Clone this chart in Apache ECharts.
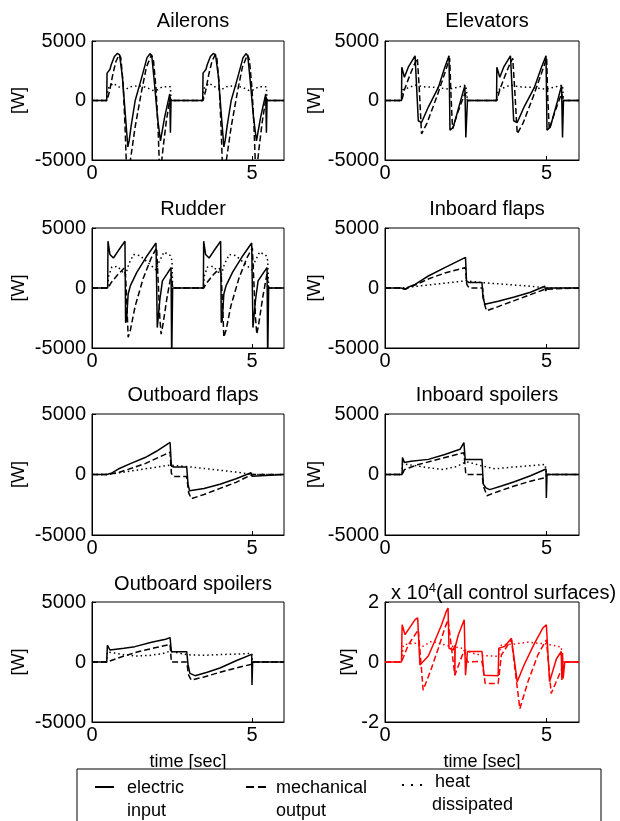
<!DOCTYPE html>
<html>
<head>
<meta charset="utf-8">
<script src="https://cdn.jsdelivr.net/npm/echarts@6/dist/echarts.min.js"></script>
<style>
html, body { margin: 0; padding: 0; background: #fff; }
#powerChart { width: 620px; height: 821px; }
</style>
</head>
<body>
<div id="powerChart"></div>
<script>
// time [sec], power [W]  (last panel in units of 1e4 W)
var aileronsElec = [[0,0],[0.46,0],[0.47,2300],[0.56,2600],[0.6,3000],[0.7,3700],[0.79,3950],[0.86,3850],[0.95,2000],[1.05,-1500],[1.12,-3900],[1.16,-3400],[1.22,-2200],[1.35,0],[1.55,1900],[1.72,3600],[1.82,3950],[1.87,3700],[1.95,1500],[2.05,-1500],[2.14,-3400],[2.27,-1400],[2.43,550],[2.45,-2700],[2.47,0],
    [3.46,0],[3.47,2300],[3.56,2600],[3.6,3000],[3.7,3700],[3.79,3950],[3.86,3850],[3.95,2000],[4.05,-1500],[4.12,-3900],[4.16,-3400],[4.22,-2200],[4.35,0],[4.55,1900],[4.72,3600],[4.82,3950],[4.87,3700],[4.95,1500],[5.05,-1500],[5.14,-3400],[5.27,-1400],[5.43,550],[5.45,-2700],[5.47,0],[6,0]];
var aileronsMech = [[0,0],[0.47,0],[0.55,800],[0.65,2200],[0.75,3300],[0.85,3850],[0.9,3600],[0.97,1500],[1.03,-2000],[1.07,-5000],[1.13,-6000],[1.2,-5000],[1.35,-2200],[1.55,800],[1.7,2800],[1.86,3850],[1.92,3400],[2.0,1000],[2.06,-2000],[2.1,-5000],[2.15,-5800],[2.22,-4000],[2.32,-1800],[2.44,300],[2.47,0],
    [3.47,0],[3.55,800],[3.65,2200],[3.75,3300],[3.85,3850],[3.9,3600],[3.97,1500],[4.03,-2000],[4.07,-5000],[4.13,-6000],[4.2,-5000],[4.35,-2200],[4.55,800],[4.7,2800],[4.86,3850],[4.92,3400],[5.0,1000],[5.06,-2000],[5.1,-5000],[5.15,-5800],[5.22,-4000],[5.32,-1800],[5.44,300],[5.47,0],[6,0]];
var aileronsHeat = [[0,0],[0.46,0],[0.5,1000],[0.66,1450],[0.8,1200],[1.03,900],[1.2,1150],[1.45,1250],[1.7,1100],[1.9,850],[2.05,900],[2.2,1150],[2.45,1150],[2.47,0],
    [3.46,0],[3.5,1000],[3.66,1450],[3.8,1200],[4.03,900],[4.2,1150],[4.45,1250],[4.7,1100],[4.9,850],[5.05,900],[5.2,1150],[5.45,1150],[5.47,0],[6,0]];

var elevatorsElec = [[0,0],[0.51,0],[0.52,2800],[0.6,1950],[0.72,2800],[0.93,3750],[0.99,3850],[1.03,-1700],[1.13,-1850],[1.34,-550],[1.65,1100],[1.85,2800],[1.98,3750],[2.01,-2500],[2.11,-2250],[2.31,-300],[2.47,1250],[2.5,-3100],[2.55,0],
    [3.45,0],[3.46,2800],[3.55,1950],[3.67,2800],[3.88,3750],[3.94,3850],[3.98,-1700],[4.09,-1850],[4.3,-550],[4.62,1100],[4.84,2800],[4.98,3750],[5.01,-2500],[5.11,-2250],[5.31,-300],[5.46,1250],[5.49,-3100],[5.52,0],[6,0]];
var elevatorsMech = [[0,0],[0.52,0],[0.6,900],[0.75,2000],[0.9,3000],[1.0,3550],[1.06,1000],[1.13,-2800],[1.3,-1900],[1.6,300],[1.85,2300],[2.0,3550],[2.04,500],[2.09,-2400],[2.25,-1000],[2.47,600],[2.55,0],
    [3.46,0],[3.55,900],[3.7,2000],[3.85,3000],[3.95,3550],[4.01,1000],[4.09,-2800],[4.27,-1900],[4.58,300],[4.84,2300],[5.0,3550],[5.03,500],[5.08,-2400],[5.25,-1000],[5.46,600],[5.52,0],[6,0]];
var elevatorsHeat = [[0,0],[0.51,0],[0.55,900],[0.7,1050],[0.93,1300],[1.2,1150],[1.6,1100],[1.98,950],[2.3,1150],[2.5,1300],[2.55,0],
    [3.45,0],[3.49,900],[3.65,1050],[3.88,1300],[4.15,1150],[4.55,1100],[4.98,950],[5.28,1150],[5.49,1300],[5.52,0],[6,0]];

var rudderElec = [[0,0],[0.49,0],[0.5,3900],[0.56,2800],[0.67,2500],[0.82,3100],[1.03,3900],[1.05,-2900],[1.08,-2700],[1.13,-500],[1.2,200],[1.4,1300],[1.7,2600],[2.0,3750],[2.02,3900],[2.04,-3300],[2.12,-1000],[2.2,600],[2.35,1200],[2.47,1700],[2.49,-6000],[2.52,0],
    [3.48,0],[3.49,3900],[3.55,2800],[3.66,2500],[3.81,3100],[4.02,3900],[4.04,-2900],[4.07,-2700],[4.12,-500],[4.19,200],[4.39,1300],[4.69,2600],[4.99,3750],[5.01,3900],[5.03,-3300],[5.11,-1000],[5.19,600],[5.34,1200],[5.47,1700],[5.49,-6000],[5.52,0],[6,0]];
var rudderMech = [[0,0],[0.5,0],[0.6,450],[0.8,1100],[1.0,1650],[1.05,1000],[1.1,-2000],[1.13,-4100],[1.2,-3500],[1.35,-1500],[1.6,800],[1.85,2500],[2.02,3350],[2.06,1000],[2.12,-2500],[2.16,-3850],[2.22,-3000],[2.35,-700],[2.48,1200],[2.52,0],
    [3.49,0],[3.59,450],[3.79,1100],[3.99,1650],[4.04,1000],[4.09,-2000],[4.12,-4100],[4.19,-3500],[4.34,-1500],[4.59,800],[4.84,2500],[5.01,3350],[5.05,1000],[5.11,-2500],[5.15,-3850],[5.21,-3000],[5.34,-700],[5.47,1200],[5.51,0],[6,0]];
var rudderHeat = [[0,0],[0.49,0],[0.52,1000],[0.62,1750],[0.8,1800],[0.98,1250],[1.05,1100],[1.15,2000],[1.3,2800],[1.5,2700],[1.8,2000],[2.0,1500],[2.1,2200],[2.25,3000],[2.45,2700],[2.5,2300],[2.52,0],
    [3.48,0],[3.51,1000],[3.61,1750],[3.79,1800],[3.97,1250],[4.04,1100],[4.14,2000],[4.29,2800],[4.49,2700],[4.79,2000],[4.99,1500],[5.09,2200],[5.24,3000],[5.44,2700],[5.49,2300],[5.52,0],[6,0]];

var inFlapsElec = [[0,0],[0.5,0],[0.62,-100],[0.75,100],[0.93,300],[1.1,600],[1.34,1000],[1.85,1700],[2.49,2550],[2.52,600],[2.6,450],[3.0,450],[3.03,-800],[3.09,-1350],[3.5,-1100],[4.0,-750],[4.5,-350],[4.94,150],[4.97,-250],[5.0,0],[6,0]];
var inFlapsMech = [[0,0],[0.5,0],[0.62,-100],[0.93,250],[1.34,750],[1.85,1250],[2.49,1700],[2.53,300],[2.6,0],[3.02,0],[3.06,-1200],[3.14,-1900],[3.5,-1550],[4.0,-1050],[4.5,-550],[4.95,-100],[5.0,0],[6,0]];
var inFlapsHeat = [[0,0],[0.5,0],[1.0,150],[1.5,300],[2.0,450],[2.5,600],[3.0,450],[3.5,350],[4.0,250],[4.5,150],[5.0,0],[6,0]];

var outFlapsElec = [[0,0],[0.46,0],[0.6,100],[0.82,450],[1.2,900],[1.66,1400],[2.0,1900],[2.44,2650],[2.48,700],[2.55,620],[2.96,620],[3.0,-800],[3.05,-1350],[3.5,-1150],[4.0,-800],[4.5,-350],[4.97,150],[5.0,-150],[5.02,0],[6,0]];
var outFlapsMech = [[0,0],[0.46,0],[0.82,150],[1.66,900],[2.44,1850],[2.48,100],[2.55,-170],[2.96,-170],[3.02,-1500],[3.1,-2000],[3.5,-1650],[4.0,-1150],[4.5,-650],[5.0,0],[6,0]];
var outFlapsHeat = [[0,0],[0.46,0],[1.0,200],[1.5,400],[2.0,600],[2.44,780],[3.0,650],[3.5,500],[4.0,350],[4.5,200],[5.0,0],[6,0]];

var inSpoilElec = [[0,0],[0.53,0],[0.54,1400],[0.6,1000],[0.8,1100],[1.34,1250],[1.85,1650],[2.32,2080],[2.44,2640],[2.48,1250],[3.0,1250],[3.04,-800],[3.12,-1100],[3.24,-1250],[3.6,-950],[4.0,-600],[4.5,-100],[4.98,450],[4.99,-1950],[5.01,0],[6,0]];
var inSpoilMech = [[0,0],[0.53,0],[0.6,400],[1.0,800],[1.5,1150],[2.0,1500],[2.44,1800],[2.5,0],[3.0,0],[3.05,-1000],[3.15,-1750],[3.5,-1400],[4.0,-950],[4.5,-550],[4.97,-250],[5.0,0],[6,0]];
var inSpoilHeat = [[0,0],[0.53,0],[0.54,900],[0.7,830],[1.0,700],[1.34,560],[1.8,420],[2.2,650],[2.52,1050],[2.75,900],[3.0,700],[3.4,470],[3.9,600],[4.4,700],[4.95,830],[5.0,0],[6,0]];

var outSpoilElec = [[0,0],[0.46,0],[0.48,1400],[0.56,1000],[1.0,1150],[1.34,1280],[1.86,1640],[2.3,1900],[2.44,2030],[2.48,860],[2.96,860],[3.0,-200],[3.06,-950],[3.22,-1140],[3.6,-850],[4.0,-500],[4.5,100],[4.99,640],[5.0,-1920],[5.02,0],[6,0]];
var outSpoilMech = [[0,0],[0.46,0],[0.48,100],[1.0,500],[1.5,900],[2.0,1200],[2.44,1470],[2.48,0],[2.96,0],[3.02,-1100],[3.1,-1500],[3.5,-1250],[4.0,-850],[4.5,-500],[4.99,-190],[5.02,0],[6,0]];
var outSpoilHeat = [[0,0],[0.46,0],[0.48,850],[0.7,750],[1.0,600],[1.4,500],[1.8,550],[2.2,700],[2.44,900],[2.7,750],[3.0,600],[3.5,560],[4.0,620],[4.5,660],[4.99,720],[5.02,0],[6,0]];

var totalElec = [[0,0],[0.51,0],[0.53,1.24],[0.62,0.91],[0.93,1.41],[1.01,1.47],[1.08,-0.1],[1.13,-0.13],[1.34,0.2],[1.54,0.7],[1.75,1.24],[1.9,1.7],[1.95,1.8],[1.98,0.46],[2.11,0.4],[2.16,0.55],[2.16,-0.44],[2.17,0.5],[2.27,0.91],[2.45,1.41],[2.49,-0.44],[2.55,0.35],[3.0,0.35],[3.06,-0.44],[3.5,-0.46],[3.52,0.46],[3.7,0.52],[3.91,0.79],[4.09,-0.66],[4.3,-0.1],[4.6,0.57],[4.88,1.13],[4.99,1.24],[5.09,-0.66],[5.3,0.1],[5.45,0.35],[5.47,-0.6],[5.49,0.3],[5.51,-0.55],[5.56,0],[6,0]];
var totalMech = [[0,0],[0.51,0],[0.72,0.57],[0.93,0.91],[1.03,1.07],[1.18,-0.94],[1.44,-0.2],[1.65,0.46],[1.85,1.13],[1.95,1.41],[2.16,-0.44],[2.45,0.4],[2.55,0],[3.0,0.02],[3.1,-0.72],[3.5,-0.72],[3.6,0.24],[3.91,0.74],[4.17,-1.56],[4.42,-0.66],[4.73,0.24],[4.99,0.74],[5.14,-1.05],[5.5,-0.15],[5.56,0],[6,0]];
var totalHeat = [[0,0],[0.51,0],[0.57,0.57],[0.93,0.63],[1.13,0.5],[1.44,0.69],[1.85,0.57],[2.37,0.46],[2.68,0.3],[3.0,0.22],[3.5,0.19],[3.6,0.57],[4.0,0.6],[4.42,0.66],[4.99,0.6],[5.45,0.5],[5.5,0],[6,0]];

var panelTitles = ['Ailerons', 'Elevators', 'Rudder', 'Inboard flaps', 'Outboard flaps', 'Inboard spoilers', 'Outboard spoilers', ''];
var seriesNames = ['electric input', 'mechanical output', 'heat dissipated'];
var panelData = [
    [aileronsElec, aileronsMech, aileronsHeat],
    [elevatorsElec, elevatorsMech, elevatorsHeat],
    [rudderElec, rudderMech, rudderHeat],
    [inFlapsElec, inFlapsMech, inFlapsHeat],
    [outFlapsElec, outFlapsMech, outFlapsHeat],
    [inSpoilElec, inSpoilMech, inSpoilHeat],
    [outSpoilElec, outSpoilMech, outSpoilHeat],
    [totalElec, totalMech, totalHeat]
];
var xTicks = [0, 5];
var yTicksW = [-5000, 0, 5000];
var yTicksTotal = [-2, 0, 2];

var font = 'Liberation Sans, Arial, Helvetica, sans-serif';
var colLeft = [92, 385];
var colWidth = [192, 194];
var rowTop = [41, 228, 414, 602];
var rowHeight = [119, 120, 121, 120];
var titleTop = [6, 194, 380, 569];

var grids = [], xAxes = [], yAxes = [], series = [], titles = [];
var dashes = ['solid', [6, 3], [1.5, 3]];

for (var i = 0; i < 8; i++) {
    var col = i % 2, row = Math.floor(i / 2);
    var isTotal = (i == 7);
    var yT = isTotal ? yTicksTotal : yTicksW;
    grids.push({
        left: colLeft[col], top: rowTop[row], width: colWidth[col], height: rowHeight[row],
        show: true, borderColor: '#000', borderWidth: 1, backgroundColor: '#fff'
    });
    xAxes.push({
        gridIndex: i, type: 'value', min: 0, max: 6, interval: xTicks[1] - xTicks[0],
        axisLine: { show: true, onZero: false, lineStyle: { color: '#000', width: 1 } },
        axisTick: { show: true, inside: true, length: 4, lineStyle: { color: '#000' } },
        axisLabel: { color: '#000', fontSize: 20, fontFamily: font, margin: 3, showMaxLabel: false,
            formatter: function (v) { return String(v); } },
        splitLine: { show: false },
        name: row == 3 ? 'time [sec]' : '',
        nameLocation: 'middle', nameGap: 31,
        nameTextStyle: { color: '#000', fontSize: 18, fontFamily: font }
    });
    yAxes.push({
        gridIndex: i, type: 'value', min: yT[0], max: yT[2], interval: yT[1] - yT[0],
        axisLine: { show: true, lineStyle: { color: '#000', width: 1 } },
        axisTick: { show: true, inside: true, length: 4, lineStyle: { color: '#000' } },
        axisLabel: { color: '#000', fontSize: 20, fontFamily: font, margin: 6,
            formatter: function (v) { return String(v); } },
        splitLine: { show: false },
        name: '[W]', nameLocation: 'middle', nameRotate: 90,
        nameGap: isTotal ? 18 : (col == 0 ? 64 : 42),
        nameTextStyle: { color: '#000', fontSize: 18, fontFamily: font }
    });
    if (panelTitles[i]) {
        titles.push({
            text: panelTitles[i], left: colLeft[col] + colWidth[col] / 2, top: titleTop[row], textAlign: 'center',
            textStyle: { color: '#000', fontSize: 20, fontWeight: 'normal', fontFamily: font }
        });
    }
    for (var s = 0; s < 3; s++) {
        series.push({
            name: seriesNames[s], type: 'line', xAxisIndex: i, yAxisIndex: i,
            data: panelData[i][s], showSymbol: false, clip: true, animation: false,
            lineStyle: { color: isTotal ? '#ff0000' : '#000', width: 1.5, type: dashes[s] }
        });
    }
}

titles.push({
    text: 'x 10{sup|4}(all control surfaces)', left: 386, top: 577,
    textStyle: {
        color: '#000', fontSize: 20, fontWeight: 'normal', fontFamily: font,
        rich: { sup: { fontSize: 13, verticalAlign: 'top', padding: [0, 0, 10, 0], fontFamily: font, color: '#000' } }
    }
});

var legendY1 = 787;
var graphics = [
    { type: 'rect', z: 100, shape: { x: 77, y: 769, width: 524, height: 70 }, style: { fill: '#fff', stroke: '#000', lineWidth: 1 } },
    { type: 'line', z: 101, shape: { x1: 95, y1: legendY1, x2: 114, y2: legendY1 }, style: { stroke: '#000', lineWidth: 2 } },
    { type: 'line', z: 101, shape: { x1: 246, y1: legendY1, x2: 269, y2: legendY1 }, style: { stroke: '#000', lineWidth: 2, lineDash: [8, 4] } },
    { type: 'line', z: 101, shape: { x1: 402, y1: legendY1 - 2, x2: 424, y2: legendY1 - 2 }, style: { stroke: '#000', lineWidth: 2, lineDash: [2, 7] } },
    { type: 'text', z: 101, left: 127, top: legendY1 - 10, style: { text: 'electric\ninput', fill: '#000', font: '18px ' + font, lineHeight: 23 } },
    { type: 'text', z: 101, left: 276, top: legendY1 - 10, style: { text: 'mechanical\noutput', fill: '#000', font: '18px ' + font, lineHeight: 23 } },
    { type: 'text', z: 101, left: 435, top: legendY1 - 14, style: { text: 'heat', fill: '#000', font: '18px ' + font } },
    { type: 'text', z: 101, left: 432, top: legendY1 + 9, style: { text: 'dissipated', fill: '#000', font: '18px ' + font } }
];

var dom = document.getElementById('powerChart');
var myChart = echarts.init(dom);
var option = {
    animation: false,
    backgroundColor: '#fff',
    title: titles,
    grid: grids,
    xAxis: xAxes,
    yAxis: yAxes,
    series: series,
    graphic: graphics
};
myChart.setOption(option, true);
</script>
</body>
</html>
